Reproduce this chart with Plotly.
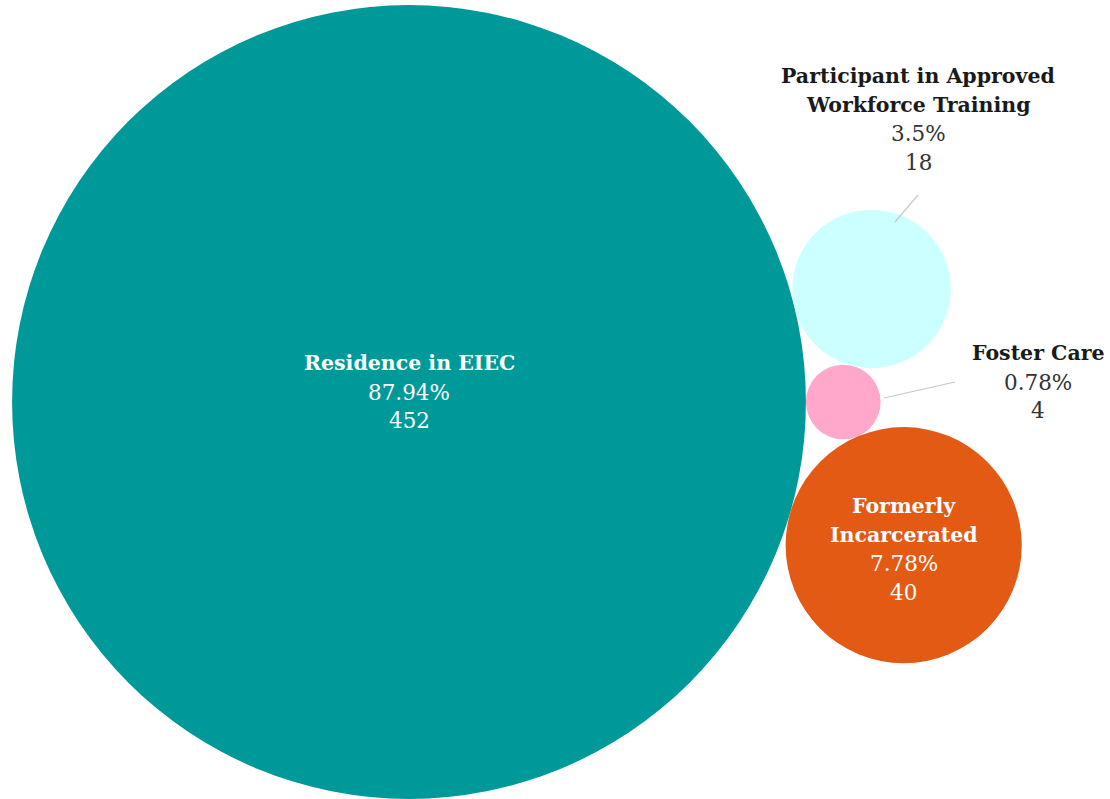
import math
import plotly.graph_objects as go

# Category data
categories = ["Residence in EIEC", "Participant in Approved Workforce Training",
              "Foster Care", "Formerly Incarcerated"]
title_lines = [["Residence in EIEC"], ["Participant in Approved", "Workforce Training"],
               ["Foster Care"], ["Formerly", "Incarcerated"]]
counts = [452, 18, 4, 40]
percents = ["87.94%", "3.5%", "0.78%", "7.78%"]
colors = ["#009999", "#ccffff", "#ffa8cc", "#e35a14"]

W, H = 1110, 799
PX_PER_UNIT = 18.67          # pixels per sqrt(count) unit
BIG_CX, BIG_CY = 409, 402     # pixel centre of the largest bubble

radii = [math.sqrt(c) for c in counts]


def place_tangent(a, ra, b, rb, r, side):
    """Centre of a circle of radius r touching circles (a, ra) and (b, rb)."""
    dx, dy = b[0] - a[0], b[1] - a[1]
    d = math.hypot(dx, dy)
    da, db = ra + r, rb + r
    x = (da * da - db * db + d * d) / (2 * d)
    h = math.sqrt(max(da * da - x * x, 0))
    ux, uy = dx / d, dy / d
    return (a[0] + x * ux - side * h * uy, a[1] + x * uy + side * h * ux)


# Packed-bubble layout: big circle at origin, small one to its right,
# the other two nestled against both.
centers = [None] * 4
centers[0] = (0.0, 0.0)
centers[2] = (radii[0] + radii[2], 0.0)
centers[1] = place_tangent(centers[0], radii[0], centers[2], radii[2], radii[1], +1)
centers[3] = place_tangent(centers[0], radii[0], centers[2], radii[2], radii[3], -1)

x_range = [-BIG_CX / PX_PER_UNIT, (W - BIG_CX) / PX_PER_UNIT]
y_range = [-(H - BIG_CY) / PX_PER_UNIT, BIG_CY / PX_PER_UNIT]

fig = go.Figure()
fig.add_trace(go.Scatter(x=[c[0] for c in centers], y=[c[1] for c in centers],
                         mode="markers", marker=dict(opacity=0), hoverinfo="skip",
                         showlegend=False))

for (cx, cy), r, col in zip(centers, radii, colors):
    fig.add_shape(type="circle", xref="x", yref="y",
                  x0=cx - r, x1=cx + r, y0=cy - r, y1=cy + r,
                  fillcolor=col, line=dict(width=0), layer="below")

SERIF = "'DejaVu Serif', serif"
LINE_H = 28.7


def add_label(x, y, lines, pct, cnt, inside, yoff=0):
    """Stack title lines (bold) then percent and count, centred on (x, y)."""
    rows = [("<b>%s</b>" % t, True) for t in lines] + [(pct, False), (str(cnt), False)]
    n = len(rows)
    for i, (txt, bold) in enumerate(rows):
        shift = ((n - 1) / 2 - i) * LINE_H + yoff
        color = "#ffffff" if inside else ("#1a1a1a" if bold else "#333333")
        fig.add_annotation(x=x, y=y, xref="x", yref="y", text=txt, showarrow=False,
                           yshift=shift, xanchor="center", yanchor="middle",
                           font=dict(family=SERIF, size=20.5 if bold else 21.5, color=color))


def px_to_data(px, py):
    return ((px - BIG_CX) / PX_PER_UNIT, (BIG_CY - py) / PX_PER_UNIT)


# Labels inside the two dark bubbles
add_label(centers[0][0], centers[0][1], title_lines[0], percents[0], counts[0], True, yoff=10)
add_label(centers[3][0], centers[3][1], title_lines[3], percents[3], counts[3], True, yoff=-4)

# Outside labels with leader lines for the two light bubbles
wf_lx, wf_ly = px_to_data(918, 119)
add_label(wf_lx, wf_ly, title_lines[1], percents[1], counts[1], False)
fc_lx, fc_ly = px_to_data(1038, 382)
add_label(fc_lx, fc_ly, title_lines[2], percents[2], counts[2], False)

for (p0, p1) in [((895, 222), (918, 195)), ((884, 398), (955, 382))]:
    a = px_to_data(*p0)
    b = px_to_data(*p1)
    fig.add_shape(type="line", xref="x", yref="y", x0=a[0], y0=a[1], x1=b[0], y1=b[1],
                  line=dict(color="#c8c8c8", width=1.2))

fig.update_layout(
    width=W, height=H, margin=dict(l=0, r=0, t=0, b=0),
    paper_bgcolor="white", plot_bgcolor="white",
    xaxis=dict(range=x_range, visible=False, fixedrange=True),
    yaxis=dict(range=y_range, visible=False, fixedrange=True),
    showlegend=False,
)

fig.write_html("out.html")
